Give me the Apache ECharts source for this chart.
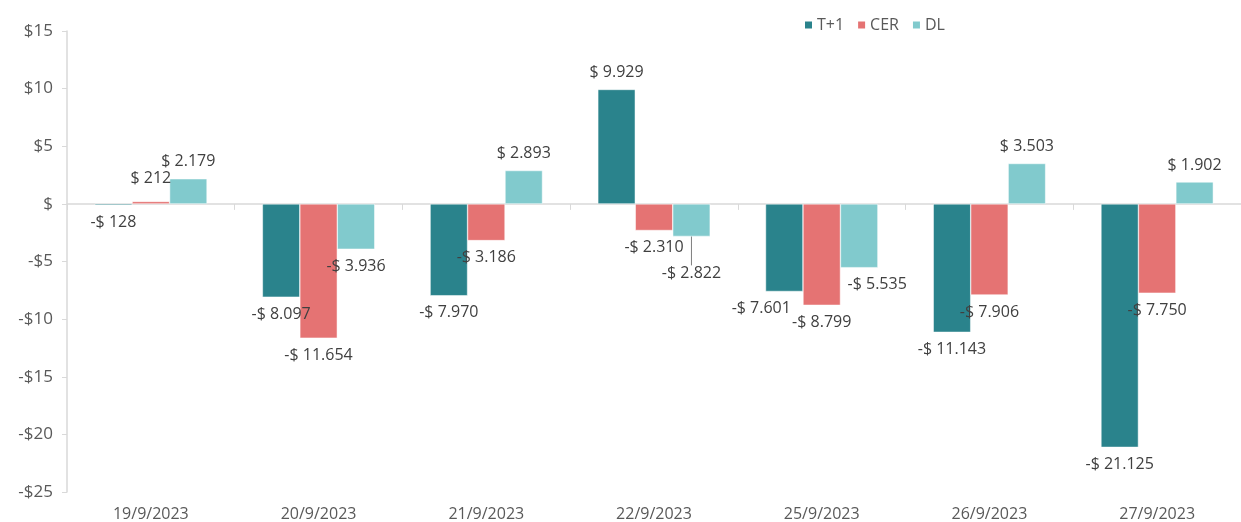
<!DOCTYPE html>
<html>
<head>
<meta charset="utf-8">
<script src="https://cdn.jsdelivr.net/npm/echarts@6/dist/echarts.min.js"></script>
<style>
  html, body { margin: 0; padding: 0; background: #fff; }
  #chart { width: 1241px; height: 522px; }
</style>
</head>
<body>
<div id="chart"></div>
<script>
const categories = ["19/9/2023", "20/9/2023", "21/9/2023", "22/9/2023", "25/9/2023", "26/9/2023", "27/9/2023"];
const seriesNames = ["T+1", "CER", "DL"];
const t1Values = [-128, -8097, -7970, 9929, -7601, -11143, -21125];
const cerValues = [212, -11654, -3186, -2310, -8799, -7906, -7750];
const dlValues = [2179, -3936, 2893, -2822, -5535, 3503, 1902];
const yTicks = [-25000, 15000, 5000]; // min, max, interval

const colors = ["#2a838c", "#e57373", "#81cacd"];
const font = "Open Sans";

// labels that were moved by hand in the original (seriesIndex-dataIndex)
const labelNudge = {
  "1-0": { dy: -6 },
  "2-3": { dy: 20, line: true },
  "0-4": { dx: -23 },
  "2-4": { dx: 18 }
};

function money(v) {
  const s = Math.abs(v).toString().replace(/\B(?=(\d{3})+(?!\d))/g, ".");
  return (v < 0 ? "-" : "") + "$ " + s;
}

function axisMoney(v) {
  if (v === 0) return "$";
  return (v < 0 ? "-$" : "$") + Math.abs(v / 1000);
}

const chart = echarts.init(document.getElementById("chart"));

const makeSeries = (name, values, idx) => ({
  name: name,
  type: "bar",
  xAxisIndex: 0,
  barGap: "0%",
  barCategoryGap: "33%",
  itemStyle: { color: colors[idx], borderColor: "#fff", borderWidth: 0.5 },
  label: {
    show: true,
    formatter: p => money(p.value),
    color: "#404040",
    fontFamily: font,
    fontSize: 16,
    distance: 9
  },
  labelLine: { show: false, lineStyle: { color: "#7f7f7f", width: 1 } },
  data: values.map((v, i) => {
    const n = labelNudge[idx + "-" + i];
    return {
      value: v,
      label: { position: v < 0 ? "bottom" : "top" },
      labelLine: { show: !!(n && n.line) }
    };
  }),
  labelLayout: p => {
    const n = labelNudge[idx + "-" + p.dataIndex];
    if (!n) return {};
    return { dx: n.dx || 0, dy: n.dy || 0 };
  },
  animation: false
});

const option = {
  animation: false,
  color: colors,
  legend: {
    data: seriesNames,
    left: 798,
    top: 12,
    icon: "rect",
    itemWidth: 9,
    itemHeight: 9,
    itemGap: 12,
    textStyle: { color: "#595959", fontFamily: font, fontSize: 16, padding: [0, 0, 0, -1] }
  },
  grid: { left: 67, top: 31, width: 1184, height: 462 },
  xAxis: [
    {
      type: "category",
      data: categories,
      axisLine: { onZero: true, lineStyle: { color: "#d9d9d9", width: 1.5 } },
      axisTick: { show: true, length: 6, lineStyle: { color: "#d9d9d9" } },
      axisLabel: { show: false }
    },
    {
      type: "category",
      data: categories,
      position: "bottom",
      axisLine: { show: false, onZero: false },
      axisTick: { show: false },
      axisLabel: { color: "#595959", fontFamily: font, fontSize: 16, margin: 14 }
    }
  ],
  yAxis: {
    type: "value",
    min: yTicks[0],
    max: yTicks[1],
    interval: yTicks[2],
    axisLine: { show: true, lineStyle: { color: "#d9d9d9", width: 1.5 } },
    axisTick: { show: true, length: 5, lineStyle: { color: "#d9d9d9" } },
    splitLine: { show: false },
    axisLabel: { color: "#595959", fontFamily: font, fontSize: 17, margin: 14, formatter: axisMoney }
  },
  series: [
    makeSeries(seriesNames[0], t1Values, 0),
    makeSeries(seriesNames[1], cerValues, 1),
    makeSeries(seriesNames[2], dlValues, 2)
  ]
};

chart.setOption(option);
</script>
</body>
</html>
